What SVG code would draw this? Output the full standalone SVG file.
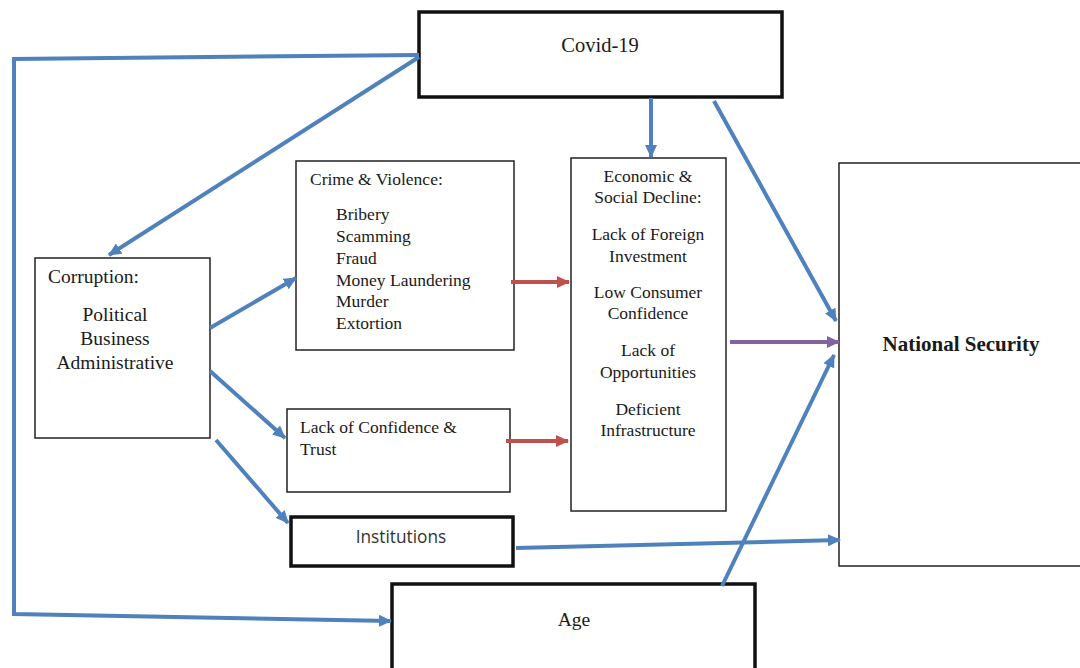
<svg xmlns="http://www.w3.org/2000/svg" width="1080" height="668" viewBox="0 0 1080 668">
<defs>
<style>
.box{fill:#fff;stroke:#222;stroke-width:1.5}
.thick{fill:#fff;stroke:#111;stroke-width:3.5}
.t{font-family:"Liberation Serif","Times New Roman",serif;fill:#1a1a1a}
.c{text-anchor:middle}
.s{font-size:17.5px}
.blue{stroke:#4F81BD;stroke-width:4;fill:none}
.red{stroke:#C0504D;stroke-width:4;fill:none}
.purple{stroke:#8064A2;stroke-width:4;fill:none}
</style>
<marker id="ab" markerUnits="userSpaceOnUse" markerWidth="14" markerHeight="12" refX="12" refY="6" orient="auto"><path d="M0,0 L13,6 L0,12 Z" fill="#4F81BD"/></marker>
<marker id="ar" markerUnits="userSpaceOnUse" markerWidth="14" markerHeight="12" refX="12" refY="6" orient="auto"><path d="M0,0 L13,6 L0,12 Z" fill="#C0504D"/></marker>
<marker id="ap" markerUnits="userSpaceOnUse" markerWidth="14" markerHeight="12" refX="12" refY="6" orient="auto"><path d="M0,0 L13,6 L0,12 Z" fill="#8064A2"/></marker>
</defs>
<rect width="1080" height="668" fill="#fff"/>

<g id="covid">
<rect class="thick" x="419" y="12" width="363" height="85"/>
<text class="t c" x="600" y="52" font-size="20.5">Covid-19</text>
</g>

<g id="corruption">
<rect class="box" x="35" y="258" width="175" height="180"/>
<text class="t" x="48" y="283" font-size="19.5">Corruption:</text>
<text class="t c" x="115" y="321" font-size="19.5">Political</text>
<text class="t c" x="115" y="345" font-size="19.5">Business</text>
<text class="t c" x="115" y="369" font-size="19.5">Administrative</text>
</g>

<g id="crime">
<rect class="box" x="296" y="161" width="218" height="189"/>
<text class="t s" x="310" y="185">Crime &amp; Violence:</text>
<text class="t s" x="336" y="220">Bribery</text>
<text class="t s" x="336" y="242">Scamming</text>
<text class="t s" x="336" y="264">Fraud</text>
<text class="t s" x="336" y="286">Money Laundering</text>
<text class="t s" x="336" y="307">Murder</text>
<text class="t s" x="336" y="329">Extortion</text>
</g>

<g id="economic">
<rect class="box" x="571" y="158" width="155" height="353"/>
<text class="t c s" x="648" y="182">Economic &amp;</text>
<text class="t c s" x="648" y="203">Social Decline:</text>
<text class="t c s" x="648" y="240">Lack of Foreign</text>
<text class="t c s" x="648" y="262">Investment</text>
<text class="t c s" x="648" y="298">Low Consumer</text>
<text class="t c s" x="648" y="319">Confidence</text>
<text class="t c s" x="648" y="356">Lack of</text>
<text class="t c s" x="648" y="378">Opportunities</text>
<text class="t c s" x="648" y="415">Deficient</text>
<text class="t c s" x="648" y="436">Infrastructure</text>
</g>

<g id="national">
<rect class="box" x="839" y="163" width="245" height="403"/>
<text class="t c" x="961" y="351" font-size="21" font-weight="bold" fill="#000">National Security</text>
</g>

<g id="confidence">
<rect class="box" x="287" y="409" width="223" height="83"/>
<text class="t s" x="300" y="433">Lack of Confidence &amp;</text>
<text class="t s" x="300" y="455">Trust</text>
</g>

<g id="institutions">
<rect class="thick" x="291" y="517" width="222" height="49" stroke-width="3"/>
<text x="401" y="543" font-size="17.3" text-anchor="middle" font-family="'Open Sans','Liberation Sans',sans-serif" fill="#333">Institutions</text>
</g>

<g id="age">
<rect class="thick" x="392" y="584" width="363" height="90"/>
<text class="t c" x="574" y="626" font-size="19.5">Age</text>
</g>

<g id="connectors">
<polyline class="blue" points="419,55 12,59"/>
<polyline class="blue" points="14,57 14,614 391,621" marker-end="url(#ab)"/>
<line class="blue" x1="419" y1="57" x2="109" y2="255" marker-end="url(#ab)"/>
<line class="blue" x1="651" y1="98" x2="651" y2="157" marker-end="url(#ab)"/>
<line class="blue" x1="714" y1="101" x2="836" y2="321" marker-end="url(#ab)"/>
<line class="blue" x1="210" y1="328" x2="296" y2="278" marker-end="url(#ab)"/>
<line class="blue" x1="210" y1="371" x2="285" y2="438" marker-end="url(#ab)"/>
<line class="blue" x1="216" y1="440" x2="288" y2="523" marker-end="url(#ab)"/>
<line class="red" x1="511" y1="282" x2="569" y2="282" marker-end="url(#ar)"/>
<line class="red" x1="506" y1="441" x2="568" y2="441" marker-end="url(#ar)"/>
<line class="purple" x1="730" y1="342" x2="839" y2="342" marker-end="url(#ap)"/>
<line class="blue" x1="516" y1="548" x2="840" y2="540" marker-end="url(#ab)"/>
<line class="blue" x1="722" y1="586" x2="834" y2="355" marker-end="url(#ab)"/>
</g>
</svg>
